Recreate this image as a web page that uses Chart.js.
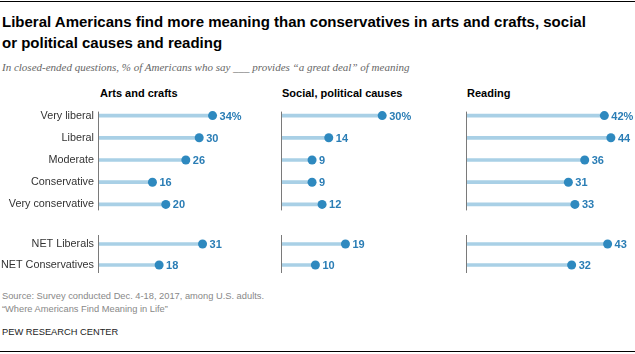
<!DOCTYPE html>
<html>
<head>
<meta charset="utf-8">
<script src="https://cdn.jsdelivr.net/npm/chart.js@4.4.1/dist/chart.umd.min.js"></script>
<style>
  html, body { margin:0; padding:0; background:#fff; }
  body { width:635px; height:354px; position:relative; overflow:hidden; font-family:"Liberation Sans", Arial, sans-serif; }
  .abs { position:absolute; white-space:nowrap; }
  .rule { position:absolute; left:0; width:635px; height:1px; background:#000; }
  #title { left:2px; top:11px; font-size:15px; font-weight:bold; line-height:21px; color:#000; }
  #subtitle { left:2px; top:60px; font-family:"Liberation Serif", Georgia, serif; font-style:italic; font-size:11px; color:#666; line-height:14px; }
  .hdr { top:88px; font-size:11px; font-weight:bold; color:#000; line-height:11px; }
  .foot { left:2px; font-size:9.3px; color:#888; line-height:11px; }
  #pew { left:2px; top:327px; font-size:9.3px; color:#222; line-height:11px; }
  canvas { position:absolute; }
</style>
</head>
<body>
<div class="rule" style="top:1px"></div>
<div id="title" class="abs">Liberal Americans find more meaning than conservatives in arts and crafts, social<br>or political causes and reading</div>
<div id="subtitle" class="abs">In closed-ended questions, % of Americans who say ___ provides “a great deal” of meaning</div>
<div class="abs hdr" id="h0" style="left:100px"></div>
<div class="abs hdr" id="h1" style="left:282px"></div>
<div class="abs hdr" id="h2" style="left:467px"></div>

<canvas id="c0a" width="282" height="120" style="left:0px;top:100px"></canvas>
<canvas id="c1a" width="187" height="120" style="left:272px;top:100px"></canvas>
<canvas id="c2a" width="178" height="120" style="left:457px;top:100px"></canvas>
<canvas id="c0b" width="282" height="51" style="left:0px;top:229px"></canvas>
<canvas id="c1b" width="187" height="51" style="left:272px;top:229px"></canvas>
<canvas id="c2b" width="178" height="51" style="left:457px;top:229px"></canvas>

<div class="abs foot" style="top:291px">Source: Survey conducted Dec. 4-18, 2017, among U.S. adults.</div>
<div class="abs foot" style="top:304px">“Where Americans Find Meaning in Life”</div>
<div id="pew" class="abs">PEW RESEARCH CENTER</div>
<div class="rule" style="top:351px"></div>

<script>
// ---- Data ----
const categories = ["Very liberal", "Liberal", "Moderate", "Conservative", "Very conservative"];
const netCategories = ["NET Liberals", "NET Conservatives"];
const panelTitles = ["Arts and crafts", "Social, political causes", "Reading"];
const artsValues = [34, 30, 26, 16, 20];
const socialValues = [30, 14, 9, 9, 12];
const readingValues = [42, 44, 36, 31, 33];
const artsNet = [31, 18];
const socialNet = [19, 10];
const readingNet = [43, 32];

panelTitles.forEach((t, i) => { document.getElementById('h' + i).textContent = t; });

const FONT = '"Liberation Sans", Arial, sans-serif';
const LINE_COLOR = '#a9d0e6';
const DOT_COLOR = '#2e89bf';
const LABEL_COLOR = '#2a7db5';

const axisLinePlugin = {
  id: 'axisLine',
  beforeDatasetsDraw(chart, args, opts) {
    const y = chart.scales.y;
    const n = chart.data.labels.length;
    const top = y.getPixelForValue(0) - opts.above;
    const bottom = y.getPixelForValue(n - 1) + opts.below;
    const x = Math.round(chart.chartArea.left) - 0.5;
    const ctx = chart.ctx;
    ctx.save();
    ctx.strokeStyle = '#7a7a7a';
    ctx.lineWidth = 1;
    ctx.beginPath();
    ctx.moveTo(x, top);
    ctx.lineTo(x, bottom);
    ctx.stroke();
    ctx.restore();
  }
};

const valueLabelPlugin = {
  id: 'valueLabels',
  afterDatasetsDraw(chart, args, opts) {
    const meta = chart.getDatasetMeta(1);
    const vals = chart.data.datasets[1].data;
    const ctx = chart.ctx;
    ctx.save();
    ctx.font = 'bold 11px ' + FONT;
    ctx.fillStyle = LABEL_COLOR;
    ctx.textAlign = 'left';
    ctx.textBaseline = 'middle';
    meta.data.forEach((pt, i) => {
      const txt = vals[i] + (opts.pct && i === 0 ? '%' : '');
      ctx.fillText(txt, pt.x + 7, pt.y + 1);
    });
    ctx.restore();
  }
};

function makeChart(id, labels, values, opt) {
  const yScale = {
    type: 'category', offset: true, display: opt.showLabels,
    grid: { display: false, drawTicks: false },
    border: { display: false },
    ticks: { padding: 5, color: '#333', font: { family: FONT, size: 10.8 } }
  };
  if (opt.showLabels) {
    yScale.afterFit = s => { s.width = 99; s.paddingTop = 0; s.paddingBottom = 0; };
  }
  return new Chart(document.getElementById(id), {
    type: 'bar',
    data: {
      labels: labels,
      datasets: [
        { type: 'bar', indexAxis: 'y', data: values, backgroundColor: LINE_COLOR, borderWidth: 0, barThickness: 3, order: 2 },
        { type: 'line', indexAxis: 'y', data: values, showLine: false, pointRadius: 4.5, pointHoverRadius: 4.5,
          pointBackgroundColor: DOT_COLOR, pointBorderWidth: 0, borderColor: DOT_COLOR, order: 1 }
      ]
    },
    options: {
      indexAxis: 'y',
      responsive: false,
      animation: false,
      events: [],
      layout: { padding: { left: opt.padLeft, right: opt.padRight, top: 2.5, bottom: 2.5 } },
      plugins: {
        legend: { display: false },
        tooltip: { enabled: false },
        axisLine: { above: opt.above, below: opt.below },
        valueLabels: { pct: opt.pct }
      },
      scales: {
        x: { type: 'linear', min: 0, max: 50, display: false },
        y: yScale
      }
    },
    plugins: [axisLinePlugin, valueLabelPlugin]
  });
}

makeChart('c0a', categories, artsValues, { padLeft: 0, padRight: 16, showLabels: true, pct: true, above: 4, below: 6 });
makeChart('c1a', categories, socialValues, { padLeft: 10, padRight: 10, showLabels: false, pct: true, above: 4, below: 6 });
makeChart('c2a', categories, readingValues, { padLeft: 10, padRight: 1, showLabels: false, pct: true, above: 4, below: 6 });
makeChart('c0b', netCategories, artsNet, { padLeft: 0, padRight: 16, showLabels: true, pct: false, above: 9, below: 8 });
makeChart('c1b', netCategories, socialNet, { padLeft: 10, padRight: 10, showLabels: false, pct: false, above: 9, below: 8 });
makeChart('c2b', netCategories, readingNet, { padLeft: 10, padRight: 1, showLabels: false, pct: false, above: 9, below: 8 });
</script>
</body>
</html>
